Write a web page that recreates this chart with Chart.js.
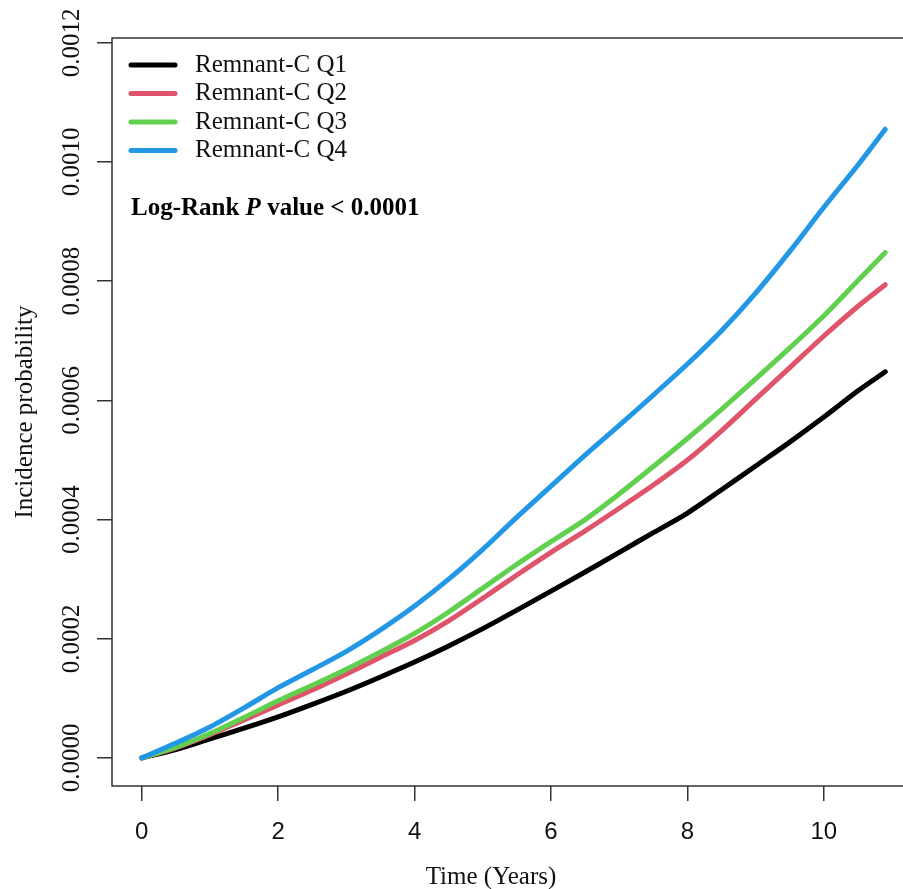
<!DOCTYPE html>
<html>
<head>
<meta charset="utf-8">
<script src="https://cdn.jsdelivr.net/npm/chart.js@4.4.1/dist/chart.umd.min.js"></script>
<style>
  html, body { margin: 0; padding: 0; background: #fff; overflow: hidden; }
  #wrap { width: 916px; height: 889px; position: relative; }
</style>
</head>
<body>
<div id="wrap"><canvas id="chart"></canvas></div>
<script>
// values
const timeYears = [0, 0.5, 1, 1.5, 2, 2.5, 3, 3.5, 4, 4.5, 5, 5.5, 6, 6.5, 7, 7.5, 8, 8.5, 9, 9.5, 10, 10.5, 10.9];
const q1 = [0, 0.000014, 0.000032, 0.000050, 0.000069, 0.000090, 0.000112, 0.000136, 0.000161, 0.000188, 0.000217, 0.000248, 0.000280, 0.000312, 0.000345, 0.000378, 0.000411, 0.000450, 0.000490, 0.000530, 0.000572, 0.000616, 0.000648];
const q2 = [0, 0.000017, 0.000039, 0.000064, 0.000089, 0.000114, 0.000141, 0.000169, 0.000197, 0.000230, 0.000268, 0.000307, 0.000345, 0.000381, 0.000419, 0.000458, 0.000500, 0.000549, 0.000602, 0.000655, 0.000708, 0.000758, 0.000794];
const q3 = [0, 0.000018, 0.000041, 0.000068, 0.000096, 0.000122, 0.000149, 0.000178, 0.000209, 0.000245, 0.000285, 0.000325, 0.000363, 0.000400, 0.000443, 0.000489, 0.000536, 0.000585, 0.000636, 0.000688, 0.000742, 0.000801, 0.000848];
const q4 = [0, 0.000025, 0.000052, 0.000084, 0.000118, 0.000148, 0.000179, 0.000215, 0.000255, 0.000300, 0.000350, 0.000404, 0.000456, 0.000508, 0.000558, 0.000609, 0.000661, 0.000717, 0.000780, 0.000850, 0.000924, 0.000995, 0.001055];

const seriesLabels = ['Remnant-C Q1', 'Remnant-C Q2', 'Remnant-C Q3', 'Remnant-C Q4'];
const seriesColors = ['#000000', '#DF536B', '#61D04F', '#2297E6'];
const xTicks = [0, 2, 4, 6, 8, 10];
const yTicks = [0, 0.0002, 0.0004, 0.0006, 0.0008, 0.0010, 0.0012];

const SERIF = "'Liberation Serif', 'Times New Roman', serif";
const SANS = "'Liberation Sans', Arial, sans-serif";

const datasets = [q1, q2, q3, q4].map((vals, i) => ({
    label: seriesLabels[i],
    data: timeYears.map((t, j) => ({ x: t, y: vals[j] })),
    borderColor: seriesColors[i],
    borderWidth: 5,
    borderCapStyle: 'round',
    borderJoinStyle: 'round',
    pointRadius: 0,
    fill: false,
    tension: 0.3,
    order: 3 - i
}));

// box round the plot, like R's box()
const boxPlugin = {
    id: 'box',
    afterDraw(c) {
        const { ctx, chartArea: a } = c;
        ctx.save();
        ctx.strokeStyle = '#333';
        ctx.lineWidth = 1.5;
        ctx.strokeRect(a.left, a.top, a.right - a.left, a.bottom - a.top);
        ctx.restore();
    }
};

// legend and log-rank note inside the plot
const notePlugin = {
    id: 'notes',
    afterDraw(c) {
        const { ctx, chartArea: a } = c;
        ctx.save();
        ctx.textBaseline = 'middle';
        ctx.font = '25px ' + SERIF;
        seriesLabels.forEach((lab, i) => {
            const y = a.top + 27 + i * 28.5;
            ctx.strokeStyle = seriesColors[i];
            ctx.lineWidth = 5;
            ctx.lineCap = 'round';
            ctx.beginPath();
            ctx.moveTo(a.left + 19, y);
            ctx.lineTo(a.left + 63, y);
            ctx.stroke();
            ctx.fillStyle = '#111';
            ctx.fillText(lab, a.left + 83, y);
        });

        let x = a.left + 19;
        const y = a.top + 171;
        const parts = [
            ['Log-Rank ', 'bold 25px ' + SERIF],
            ['P', 'italic bold 25px ' + SERIF],
            [' value < 0.0001', 'bold 25px ' + SERIF]
        ];
        ctx.fillStyle = '#000';
        parts.forEach(([txt, f]) => {
            ctx.font = f;
            ctx.fillText(txt, x, y);
            x += ctx.measureText(txt).width;
        });

        // x axis title
        ctx.font = '25px ' + SERIF;
        ctx.textAlign = 'center';
        ctx.textBaseline = 'alphabetic';
        ctx.fillStyle = '#111';
        ctx.fillText('Time (Years)', 491, 884);
        ctx.restore();
    }
};

new Chart(document.getElementById('chart'), {
    type: 'line',
    data: { datasets },
    options: {
        responsive: true,
        maintainAspectRatio: false,
        animation: false,
        layout: { padding: { top: 38, right: 1, left: 0, bottom: 0 } },
        plugins: {
            legend: { display: false },
            tooltip: { enabled: false }
        },
        scales: {
            x: {
                type: 'linear',
                min: -0.436,
                max: 11.336,
                afterBuildTicks: s => { s.ticks = xTicks.map(v => ({ value: v })); },
                afterFit: s => { s.height = 103; },
                border: { display: false },
                grid: { drawOnChartArea: false, tickLength: 15, color: '#333', lineWidth: 1.5 },
                ticks: {
                    font: { family: SANS, size: 24 },
                    color: '#111',
                    padding: 17,
                    maxRotation: 0,
                    autoSkip: false
                }
            },
            y: {
                type: 'linear',
                min: -0.000047,
                max: 0.001208,
                afterBuildTicks: s => { s.ticks = yTicks.map(v => ({ value: v })); },
                afterFit: s => { s.width = 112; },
                border: { display: false },
                grid: { drawOnChartArea: false, tickLength: 15, color: '#333', lineWidth: 1.5 },
                ticks: {
                    font: { family: SERIF, size: 25 },
                    color: '#111',
                    minRotation: 90,
                    maxRotation: 90,
                    crossAlign: 'center',
                    padding: -10,
                    autoSkip: false,
                    callback: v => v.toFixed(4)
                },
                title: {
                    display: true,
                    text: 'Incidence probability',
                    font: { family: SERIF, size: 25 },
                    color: '#111',
                    padding: { top: 10, bottom: 0 }
                }
            }
        }
    },
    plugins: [boxPlugin, notePlugin]
});
</script>
</body>
</html>
